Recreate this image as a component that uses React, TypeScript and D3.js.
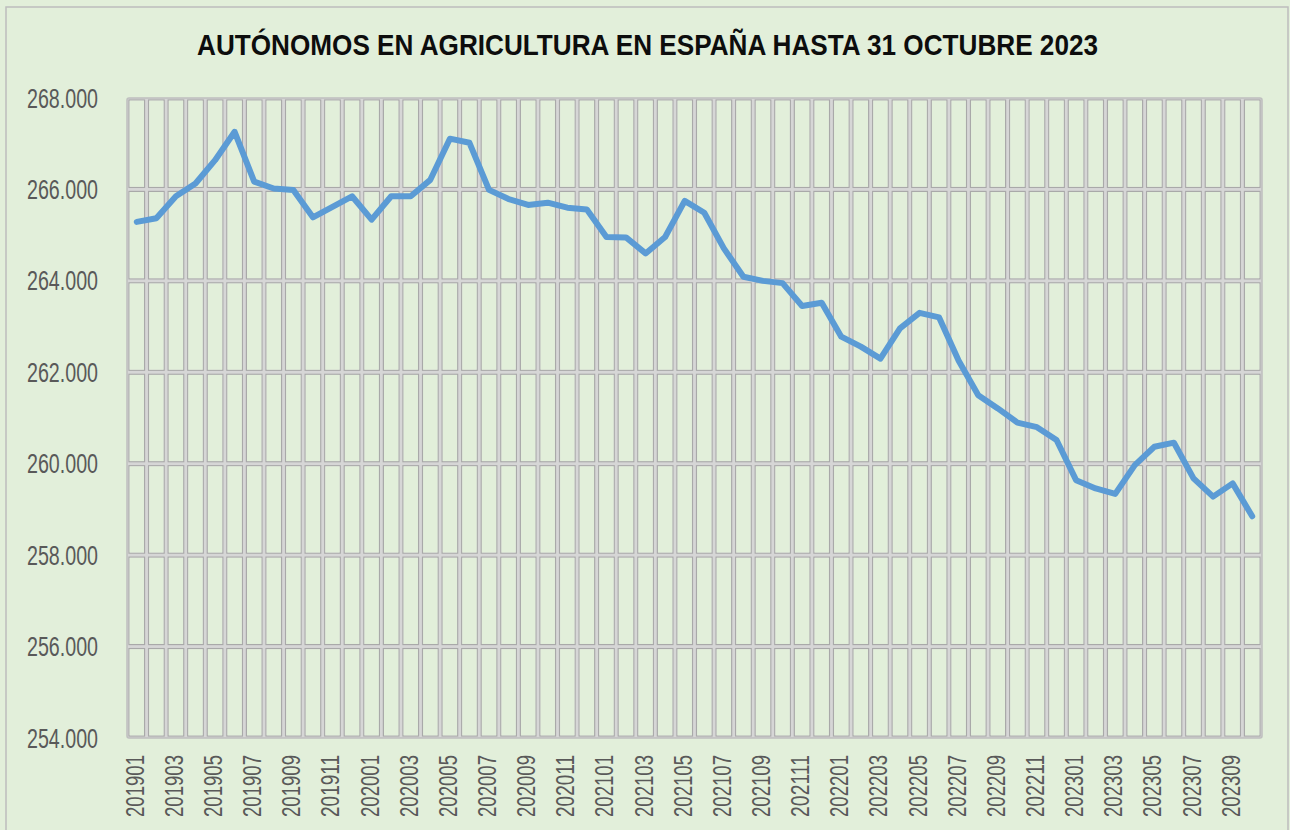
import React from "react";
import * as d3 from "d3";

const months: string[] = [];
const years = [2019, 2020, 2021, 2022, 2023];
years.forEach((y) => {
  const n = y === 2023 ? 10 : 12;
  for (let m = 1; m <= n; m++) months.push(`${y}${String(m).padStart(2, "0")}`);
});

const values2019 = [265290, 265370, 265850, 266130, 266640, 267260, 266170, 266020, 265990, 265390, 265620, 265850];
const values2020 = [265340, 265850, 265850, 266210, 267110, 267020, 265990, 265790, 265660, 265710, 265600, 265560];
const values2021 = [264960, 264950, 264600, 264960, 265750, 265490, 264710, 264090, 264000, 263950, 263450, 263520];
const values2022 = [262780, 262560, 262300, 262960, 263300, 263200, 262250, 261500, 261210, 260900, 260800, 260520];
const values2023 = [259640, 259460, 259340, 259970, 260370, 260460, 259680, 259280, 259570, 258850];
const values = [...values2019, ...values2020, ...values2021, ...values2022, ...values2023];

const yTicks = [254000, 256000, 258000, 260000, 262000, 264000, 266000, 268000];
const title = "AUTÓNOMOS EN AGRICULTURA EN ESPAÑA HASTA 31 OCTUBRE 2023";

const W = 1290;
const H = 830;
const left = 127;
const right = 1262;
const top = 98;
const bottom = 738;

const fmt = (v: number) => d3.format(",")(v).replace(/,/g, ".");

export default function App() {
  const x = d3.scaleBand<string>().domain(months).range([left, right]).padding(0);
  const y = d3.scaleLinear().domain([254000, 268000]).range([bottom, top]);
  const bw = x.bandwidth();
  const line = d3
    .line<number>()
    .x((_, i) => (x(months[i]) as number) + bw / 2)
    .y((d) => y(d));

  const colEdges = months.map((m) => x(m) as number).concat([right]);
  const rowEdges = yTicks.map((t) => y(t)).sort((a, b) => a - b);

  const cells: JSX.Element[] = [];
  for (let i = 0; i < colEdges.length - 1; i++) {
    for (let j = 0; j < rowEdges.length - 1; j++) {
      const x0 = colEdges[i];
      const x1 = colEdges[i + 1];
      const y0 = rowEdges[j];
      const y1 = rowEdges[j + 1];
      cells.push(
        <rect
          key={`c${i}-${j}`}
          x={x0 + 2}
          y={y0 + 2}
          width={x1 - x0 - 4}
          height={y1 - y0 - 4}
          fill="none"
          stroke="#a9a9a9"
          strokeWidth={1.2}
        />
      );
    }
  }

  return (
    <svg
      width={W}
      height={H}
      style={{ position: "absolute", left: 0, top: 0, display: "block" }}
      fontFamily="'Liberation Sans', Arial, sans-serif"
    >
      <rect x={0} y={0} width={W} height={H} fill="#e2efda" />
      <rect x={6} y={7} width={1282} height={840} fill="#e2efda" stroke="#bdbdbd" strokeWidth={1.5} />
      <text
        x={647.5}
        y={55}
        textAnchor="middle"
        fontSize={30}
        fontWeight="bold"
        fill="#0d0d0d"
        textLength={901}
        lengthAdjust="spacingAndGlyphs"
      >
        {title}
      </text>
      {/* plot area light grid bands */}
      <rect x={left} y={top} width={right - left} height={bottom - top} fill="#d6d6d6" rx={2} />
      {cells.map((c) => c)}
      {/* fill cells with background */}
      {colEdges.slice(0, -1).map((x0, i) =>
        rowEdges.slice(0, -1).map((y0, j) => (
          <rect
            key={`f${i}-${j}`}
            x={x0 + 2.6}
            y={y0 + 2.6}
            width={colEdges[i + 1] - x0 - 5.2}
            height={rowEdges[j + 1] - y0 - 5.2}
            fill="#e2efda"
          />
        ))
      )}
      <rect x={left} y={top} width={right - left} height={bottom - top} fill="none" stroke="#bfbfbf" strokeWidth={1.5} rx={2} />
      {yTicks.map((t) => (
        <text
          key={t}
          x={98}
          y={y(t) + 9.5}
          textAnchor="end"
          fontSize={27}
          fill="#595959"
          textLength={71}
          lengthAdjust="spacingAndGlyphs"
        >
          {fmt(t)}
        </text>
      ))}
      {months.map((m, i) =>
        i % 2 === 0 ? (
          <text
            key={m}
            transform={`translate(${(x(m) as number) + bw / 2 + 7},755) rotate(-90)`}
            textAnchor="end"
            fontSize={25}
            fill="#595959"
            textLength={62}
            lengthAdjust="spacingAndGlyphs"
          >
            {m}
          </text>
        ) : null
      )}
      <path
        d={line(values) || ""}
        fill="none"
        stroke="#5b9bd5"
        strokeWidth={6}
        strokeLinejoin="round"
        strokeLinecap="round"
      />
    </svg>
  );
}
